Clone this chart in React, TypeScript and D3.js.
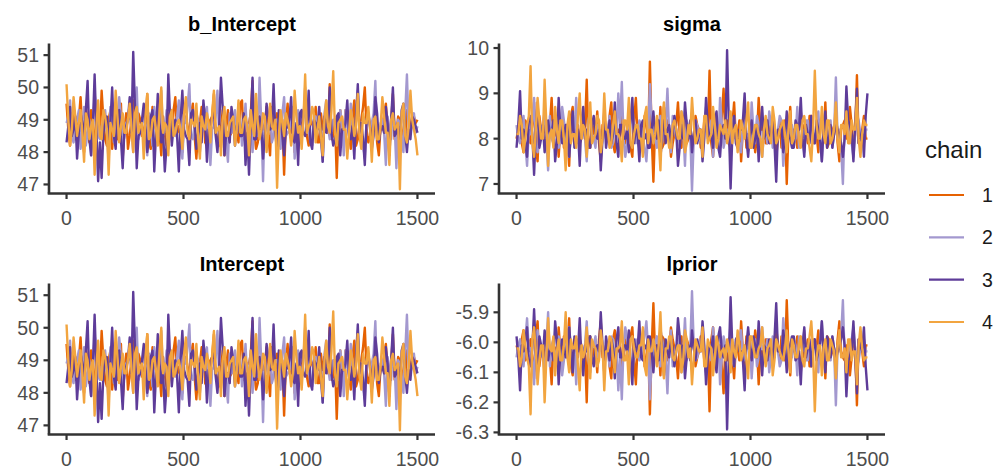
import React from "react";
import * as d3 from "d3";

// Draws at iterations 0, 15, ..., 1500 ("at") and 7.5, 22.5, ... ("mid"), interleaved
const ITER_STEP = 7.5;
const chains = ["1", "2", "3", "4"];
const chainColors = ["#e66101", "#a398cf", "#5e3c99", "#f2a540"];

const bIntercept1 = [49.5,48.2,49.1,48.6,49.7,48.0,48.9,49.3,47.9,48.7,49.9,48.4,49.0,48.1,49.5,48.8,47.8,49.2,48.5,49.6,48.3,49.0,48.7,49.8,48.1,48.9,49.4,47.9,48.6,49.2,48.4,49.7,48.8,48.0,49.1,48.5,49.5,47.8,48.9,49.3,48.2,49.0,49.8,48.4,48.7,47.9,49.3,48.6,49.1,48.3,49.6,48.5,48.9,50.2,48.1,49.0,48.7,49.4,47.9,48.8,49.2,48.4,47.3,49.5,48.6,48.0,49.1,48.8,49.7,48.2,48.9,49.4,48.3,48.7,49.0,50.1,48.5,47.2,49.3,48.6,48.9,48.1,49.6,48.4,49.0,50.0,48.3,48.8,49.2,47.9,48.7,49.5,48.2,49.8,48.6,49.0,48.4,49.3,48.7,49.1,49.0];
const bIntercept2 = [48.9,49.6,48.3,49.0,48.1,49.4,48.6,47.9,49.8,48.5,48.8,49.3,47.7,49.0,48.4,49.7,48.2,48.9,49.5,48.0,50.0,48.6,49.2,47.9,48.8,49.4,48.3,49.9,48.7,48.1,49.1,48.5,49.6,47.8,48.9,50.1,48.4,49.2,48.0,48.7,49.4,47.6,48.8,49.9,48.3,49.1,47.7,48.6,49.3,48.9,48.2,49.5,48.7,48.0,49.2,50.3,47.1,48.8,49.4,48.5,49.0,48.1,49.7,48.6,48.9,47.8,49.3,48.4,50.0,48.7,48.2,49.1,48.8,47.7,49.6,48.4,49.0,48.6,49.3,47.9,48.8,49.5,48.3,49.9,48.6,47.8,49.2,48.9,50.2,48.4,49.0,47.6,48.7,49.4,47.5,48.9,48.0,50.4,48.6,49.2,48.8];
const bIntercept3 = [48.3,49.4,48.7,47.8,49.2,48.5,50.2,47.9,50.4,47.1,47.2,49.0,48.4,50.0,48.1,49.3,47.5,48.8,49.7,51.1,47.5,48.6,49.5,48.0,49.1,47.4,49.8,48.3,47.4,50.4,48.2,49.0,47.4,49.9,48.5,47.6,49.3,48.1,48.9,49.6,47.7,48.8,49.2,48.0,50.3,47.9,48.6,49.4,48.2,49.0,48.5,47.6,47.3,50.3,48.4,49.1,47.8,49.5,48.7,50.1,48.0,49.2,47.9,48.8,49.7,48.3,47.6,49.3,48.5,49.9,48.1,48.9,49.4,47.7,48.6,50.0,48.2,49.1,47.9,48.7,49.6,48.4,47.8,50.1,48.9,47.6,49.2,48.1,49.7,48.3,48.8,49.4,47.9,50.0,48.6,48.1,49.5,48.0,48.4,49.0,48.6];
const bIntercept4 = [50.1,48.2,49.7,48.5,49.3,47.7,49.0,48.8,47.3,49.6,48.4,49.1,47.3,48.7,49.9,48.3,49.2,48.6,49.5,48.0,49.4,48.8,47.8,49.8,48.5,49.1,48.2,50.0,48.9,47.9,49.3,48.6,49.0,48.1,49.7,48.4,48.9,49.5,47.8,48.8,49.2,48.3,49.9,48.7,47.9,49.4,48.5,49.0,48.2,49.6,48.6,49.1,47.9,48.8,49.8,48.4,49.2,48.0,49.5,48.7,46.9,49.3,48.5,49.0,48.2,49.9,48.6,48.1,50.4,48.8,49.4,48.3,49.1,47.9,49.6,48.6,50.5,48.2,49.0,48.7,47.8,49.3,48.5,49.8,48.1,48.9,49.4,47.7,49.1,48.4,49.7,48.6,47.6,49.2,48.8,46.85,49.5,48.3,49.9,48.7,47.9];

const bInterceptMid1 = [48.7,49.2,48.4,49.0,48.6,49.4,48.3,48.9,49.1,48.5,49.0,48.2,49.3,48.8,48.4,49.5,48.7,48.1,49.0,48.6,49.2,48.5,48.9,48.3,49.4,48.7,48.6,49.1,48.2,48.9,49.3,48.6,48.4,49.0,48.8,49.2,48.5,48.7,49.4,48.3,48.9,49.1,48.6,48.2,49.3,48.8,48.5,49.0,48.7,49.5,48.4,48.9,49.2,48.6,48.3,49.1,48.8,48.5,49.4,48.7,48.2,49.0,48.9,48.6,49.3,48.4,48.8,49.1,48.5,49.0,48.7,48.3,49.2,48.9,48.6,48.4,49.0,48.8,48.5,49.3,48.6,49.1,48.2,48.9,49.4,48.7,48.5,49.0,48.3,48.8,49.2,48.6,48.9,48.4,49.1,48.7,48.5,49.2,48.8,48.9];
const bInterceptMid2 = [49.1,48.5,48.8,49.3,48.6,48.2,49.0,48.7,49.2,48.4,48.9,48.6,49.4,48.3,48.8,49.1,48.5,49.0,48.7,49.3,48.4,48.9,48.6,49.2,48.2,48.8,49.0,48.5,49.3,48.7,48.6,49.1,48.3,48.9,49.4,48.5,48.8,49.0,48.6,49.2,48.4,48.7,49.1,48.5,48.9,48.3,49.2,48.8,48.6,49.0,48.7,48.4,49.3,48.8,48.5,48.9,49.1,48.6,48.3,49.0,48.8,49.2,48.5,48.7,49.4,48.4,48.9,49.0,48.6,48.3,49.1,48.7,48.5,49.2,48.8,48.6,49.0,48.4,48.9,49.3,48.5,48.8,49.1,48.6,48.3,49.0,48.7,49.2,48.5,48.9,48.6,49.1,48.4,48.8,49.0,48.5,49.2,48.7,48.9,48.6];
const bInterceptMid3 = [48.8,48.5,49.1,48.6,48.9,49.3,48.4,48.8,48.7,48.3,48.6,49.1,48.9,48.5,49.2,48.4,48.7,49.0,48.6,49.4,48.5,49.0,48.8,48.4,49.3,48.6,48.9,48.7,48.2,49.1,48.8,48.5,49.0,48.7,48.4,49.2,48.9,48.6,48.3,49.0,48.7,49.1,48.5,48.8,49.4,48.6,48.3,49.0,48.8,48.5,49.2,48.6,48.9,48.4,49.0,48.7,48.5,49.1,48.8,48.6,49.3,48.5,48.7,49.0,48.4,48.9,49.2,48.6,48.8,48.3,49.0,48.7,48.5,49.1,48.9,48.6,48.4,49.2,48.7,48.9,48.5,48.8,49.1,48.6,48.4,49.0,48.8,48.5,49.2,48.7,48.6,48.9,49.0,48.5,48.8,49.3,48.6,48.7,49.1,48.8];
const bInterceptMid4 = [49.0,48.7,49.1,48.9,48.6,49.2,48.4,49.0,48.8,48.5,49.3,48.7,48.9,48.5,49.1,48.8,48.6,49.0,48.7,49.2,48.6,48.9,49.1,48.4,49.0,48.7,49.3,48.6,48.8,49.1,48.5,48.9,48.7,49.2,48.6,49.0,48.8,48.4,49.1,48.7,48.9,49.2,48.6,48.8,49.0,48.5,48.9,49.1,48.7,48.6,49.0,48.8,49.3,48.5,48.9,48.7,49.1,48.6,48.8,49.0,48.5,48.9,49.2,48.7,48.6,49.1,48.8,49.0,48.6,48.9,49.2,48.7,48.5,49.0,48.8,49.3,48.6,48.9,49.1,48.7,48.6,49.0,48.8,48.5,49.2,48.9,48.7,49.0,48.4,48.8,49.1,48.6,49.0,48.7,48.9,49.2,48.5,48.8,49.0,48.4];

const sigma1 = [8.0,8.6,7.7,8.3,7.9,8.8,7.5,8.2,8.4,7.8,8.9,8.1,7.6,8.5,8.0,7.4,8.7,8.2,7.9,8.4,9.3,7.8,8.1,8.6,7.5,8.3,8.0,8.8,7.7,8.2,8.5,7.9,8.4,7.6,8.9,8.1,7.8,8.3,9.7,7.05,8.2,8.7,7.9,8.4,7.6,8.1,8.8,7.8,8.3,8.0,7.7,8.5,8.2,7.9,8.6,9.5,7.6,8.3,8.0,9.1,8.4,7.8,8.8,8.1,7.5,8.6,8.0,8.3,7.7,8.9,8.2,7.9,8.5,8.0,7.6,8.4,8.1,7.0,8.7,8.2,7.8,8.6,8.3,7.9,8.5,8.0,7.7,8.4,8.8,7.9,8.2,8.6,7.5,8.3,8.0,8.7,7.8,9.4,8.1,8.5,8.0];
const sigma2 = [8.3,7.9,8.5,7.4,8.1,8.9,7.7,8.2,8.6,7.3,8.0,8.4,7.8,8.7,8.1,7.6,8.3,8.9,7.9,8.2,7.5,8.6,8.0,8.3,7.7,8.5,8.1,7.8,8.4,9.0,9.25,7.6,8.2,8.7,7.9,8.4,8.0,7.5,9.2,8.1,7.8,8.5,8.2,9.1,7.7,8.3,8.0,8.6,7.4,8.2,6.85,8.4,8.1,7.9,8.7,8.0,7.6,8.3,8.9,7.8,8.2,7.5,8.5,8.0,7.7,8.4,8.1,8.8,7.9,8.3,7.6,8.2,8.6,7.8,8.0,8.5,7.4,8.3,8.1,7.9,8.7,8.0,7.7,8.4,8.2,7.9,8.6,7.5,8.3,8.1,7.8,9.35,8.2,7.0,8.4,8.0,7.6,8.5,8.1,7.9,8.2];
const sigma3 = [7.8,9.05,8.2,7.6,8.5,7.2,8.8,8.0,7.7,8.4,8.1,7.5,8.9,7.9,8.3,7.6,8.6,8.0,7.4,8.7,8.2,7.8,8.5,8.0,7.3,8.6,8.1,7.9,8.8,7.6,8.3,8.0,7.7,8.9,8.2,7.5,8.4,8.1,7.8,8.6,8.0,7.6,8.7,8.2,7.9,8.5,7.4,8.3,8.8,8.0,7.7,8.4,8.1,7.5,8.9,8.0,7.8,8.6,7.6,8.3,9.95,6.9,8.5,7.8,8.2,9.0,7.6,8.4,8.0,7.5,8.7,8.1,7.9,8.4,7.05,8.2,7.7,8.6,8.0,7.8,8.3,8.9,7.6,8.1,8.5,7.9,8.2,7.5,8.6,8.0,7.8,8.4,8.1,7.6,9.15,8.3,7.5,9.1,8.0,7.6,9.0];
const sigma4 = [8.1,8.5,7.7,8.3,9.6,7.6,8.9,8.0,9.3,7.4,8.2,8.7,7.9,8.4,7.3,8.6,8.1,7.8,9.0,8.3,7.6,8.8,8.0,8.5,7.7,9.0,8.2,7.9,8.6,8.1,7.5,8.4,8.9,7.8,8.3,8.0,7.6,8.7,8.2,7.9,8.5,7.3,8.8,8.1,7.8,8.4,8.0,8.6,7.7,8.3,8.9,7.9,8.2,7.6,8.5,8.0,8.7,7.8,8.3,8.1,7.9,8.6,8.2,7.7,8.4,8.0,8.8,7.8,8.3,8.1,7.6,8.5,8.0,8.7,7.9,8.2,8.4,7.7,8.6,8.0,8.3,7.8,8.5,8.1,7.5,9.5,8.0,8.7,7.9,8.4,8.0,8.8,7.7,8.3,8.6,7.9,8.2,8.9,7.6,8.4,8.3];

const sigmaMid1 = [8.2,7.9,8.4,8.0,8.3,7.8,8.5,8.1,7.9,8.3,8.0,8.4,8.2,7.8,8.1,8.5,7.9,8.3,8.0,8.2,7.8,8.4,8.1,7.9,8.3,8.0,8.5,7.9,8.2,8.0,8.3,8.1,7.8,8.4,8.0,8.2,8.5,7.9,8.1,8.3,8.0,7.8,8.4,8.2,7.9,8.3,8.1,8.5,7.9,8.2,8.0,8.3,7.8,8.4,8.1,7.9,8.2,8.0,8.5,8.1,7.9,8.3,8.0,8.4,8.2,7.8,8.1,8.3,8.0,8.2,8.4,7.9,8.1,8.3,8.0,7.8,8.4,8.2,7.9,8.1,8.3,8.0,8.2,8.5,7.9,8.1,8.4,8.0,7.8,8.3,8.1,7.9,8.2,8.4,8.0,8.3,8.1,7.9,8.2,8.0];
const sigmaMid2 = [8.0,8.3,7.9,8.2,8.4,7.8,8.1,8.3,8.0,8.5,7.9,8.2,8.0,8.4,7.8,8.3,8.1,7.9,8.2,8.0,8.4,8.1,7.8,8.3,8.0,8.2,8.5,7.9,8.1,8.3,8.0,7.9,8.4,8.2,8.0,8.3,7.8,8.1,8.4,8.0,8.2,7.9,8.3,8.1,8.5,8.0,7.8,8.2,8.4,8.1,8.0,8.3,7.9,8.2,8.0,8.4,8.1,7.8,8.3,8.0,8.2,8.4,8.0,7.9,8.3,8.1,7.8,8.2,8.5,8.0,8.1,7.9,8.3,8.0,8.2,8.4,7.9,8.1,8.3,8.0,7.8,8.2,8.4,8.0,8.1,8.3,7.9,8.2,8.0,8.4,8.1,8.0,7.8,8.3,8.2,7.9,8.1,8.4,8.0,8.2];
const sigmaMid3 = [8.3,8.0,7.9,8.4,8.1,8.2,7.8,8.3,8.0,8.1,8.4,7.9,8.2,8.0,8.3,8.1,7.8,8.2,8.4,8.0,7.9,8.3,8.1,8.2,8.0,7.8,8.4,8.1,7.9,8.3,8.0,8.2,8.4,7.9,8.1,8.3,8.0,7.8,8.2,8.1,8.4,8.0,7.9,8.3,8.1,8.2,7.8,8.0,8.3,8.4,8.1,7.9,8.2,8.0,8.3,8.1,8.4,7.8,8.2,8.0,8.3,8.1,7.9,8.2,8.4,8.0,8.1,7.8,8.3,8.2,8.0,8.4,8.1,7.9,8.2,8.3,8.0,8.1,7.8,8.4,8.2,8.0,8.3,7.9,8.1,8.4,8.0,8.2,7.8,8.3,8.1,8.2,7.9,8.0,8.4,8.1,8.3,7.9,8.2,8.5];
const sigmaMid4 = [8.1,8.3,8.0,8.5,7.9,8.2,8.4,8.0,8.3,8.1,7.8,8.2,8.4,8.0,8.3,7.9,8.1,8.5,8.0,8.2,8.3,7.9,8.1,8.4,8.0,8.2,7.8,8.3,8.1,8.0,8.4,8.2,7.9,8.1,8.3,8.0,8.5,7.9,8.2,8.1,8.0,8.4,8.1,7.8,8.3,8.2,8.0,8.4,7.9,8.1,8.3,8.0,8.2,8.5,7.9,8.1,8.3,8.0,8.2,8.4,8.1,7.9,8.3,8.0,8.2,8.4,7.8,8.1,8.3,8.0,8.2,8.1,7.9,8.4,8.0,8.3,8.1,8.2,7.9,8.3,8.0,8.4,8.1,7.8,8.2,8.3,8.0,8.1,8.4,7.9,8.2,8.0,8.3,8.1,7.9,8.4,8.2,8.0,8.1,8.3];

const lprior1 = [-6.01,-6.10,-5.96,-6.05,-5.99,-6.12,-5.93,-6.03,-6.06,-5.98,-6.14,-6.02,-5.95,-6.08,-6.01,-5.92,-6.11,-6.03,-5.99,-6.06,-6.20,-5.98,-6.02,-6.10,-5.93,-6.05,-6.01,-6.12,-5.96,-6.03,-6.08,-5.99,-6.06,-5.95,-6.14,-6.02,-5.98,-6.05,-6.24,-5.87,-6.03,-6.11,-5.99,-6.06,-5.95,-6.02,-6.12,-5.98,-6.05,-6.01,-5.96,-6.08,-6.03,-5.99,-6.10,-6.23,-5.95,-6.05,-6.01,-6.17,-6.06,-5.98,-6.12,-6.02,-5.93,-6.10,-6.01,-6.05,-5.96,-6.14,-6.03,-5.99,-6.08,-6.01,-5.95,-6.06,-6.02,-5.86,-6.11,-6.03,-5.98,-6.10,-6.05,-5.99,-6.08,-6.01,-5.96,-6.06,-6.12,-5.99,-6.03,-6.10,-5.93,-6.05,-6.01,-6.11,-5.98,-6.21,-6.02,-6.08,-6.01];
const lprior2 = [-6.05,-5.99,-6.08,-5.92,-6.02,-6.14,-5.96,-6.03,-6.10,-5.90,-6.01,-6.06,-5.98,-6.11,-6.02,-5.95,-6.05,-6.14,-5.99,-6.03,-5.93,-6.10,-6.01,-6.05,-5.96,-6.08,-6.02,-5.98,-6.06,-6.16,-6.19,-5.95,-6.03,-6.11,-5.99,-6.06,-6.01,-5.93,-6.19,-6.02,-5.98,-6.08,-6.03,-6.17,-5.96,-6.05,-6.01,-6.10,-5.92,-6.03,-5.83,-6.06,-6.02,-5.99,-6.11,-6.01,-5.95,-6.05,-6.14,-5.98,-6.03,-5.93,-6.08,-6.01,-5.96,-6.06,-6.02,-6.12,-5.99,-6.05,-5.95,-6.03,-6.10,-5.98,-6.01,-6.08,-5.92,-6.05,-6.02,-5.99,-6.11,-6.01,-5.96,-6.06,-6.03,-5.99,-6.10,-5.93,-6.05,-6.02,-5.98,-6.21,-6.03,-5.86,-6.06,-6.01,-5.95,-6.08,-6.02,-5.99,-6.03];
const lprior3 = [-5.98,-6.16,-6.03,-5.95,-6.08,-5.89,-6.12,-6.01,-5.96,-6.06,-6.02,-5.93,-6.14,-5.99,-6.05,-5.95,-6.10,-6.01,-5.92,-6.11,-6.03,-5.98,-6.08,-6.01,-5.90,-6.10,-6.02,-5.99,-6.12,-5.95,-6.05,-6.01,-5.96,-6.14,-6.03,-5.93,-6.06,-6.02,-5.98,-6.10,-6.01,-5.95,-6.11,-6.03,-5.99,-6.08,-5.92,-6.05,-6.12,-6.01,-5.96,-6.06,-6.02,-5.93,-6.14,-6.01,-5.98,-6.10,-5.95,-6.05,-6.29,-5.85,-6.08,-5.98,-6.03,-6.16,-5.95,-6.06,-6.01,-5.93,-6.11,-6.02,-5.99,-6.06,-5.87,-6.03,-5.96,-6.10,-6.01,-5.98,-6.05,-6.14,-5.95,-6.02,-6.08,-5.99,-6.03,-5.93,-6.10,-6.01,-5.98,-6.06,-6.02,-5.95,-6.18,-6.05,-5.93,-6.17,-6.01,-5.95,-6.16];
const lprior4 = [-6.02,-6.08,-5.96,-6.05,-6.24,-5.95,-6.14,-6.01,-6.20,-5.92,-6.03,-6.11,-5.99,-6.06,-5.90,-6.10,-6.02,-5.98,-6.16,-6.05,-5.95,-6.12,-6.01,-6.08,-5.96,-6.16,-6.03,-5.99,-6.10,-6.02,-5.93,-6.06,-6.14,-5.98,-6.05,-6.01,-5.95,-6.11,-6.03,-5.99,-6.08,-5.90,-6.12,-6.02,-5.98,-6.06,-6.01,-6.10,-5.96,-6.05,-6.14,-5.99,-6.03,-5.95,-6.08,-6.01,-6.11,-5.98,-6.05,-6.02,-5.99,-6.10,-6.03,-5.96,-6.06,-6.01,-6.12,-5.98,-6.05,-6.02,-5.95,-6.08,-6.01,-6.11,-5.99,-6.03,-6.06,-5.96,-6.10,-6.01,-6.05,-5.98,-6.08,-6.02,-5.93,-6.23,-6.01,-6.11,-5.99,-6.06,-6.01,-6.12,-5.96,-6.05,-6.10,-5.99,-6.03,-6.14,-5.95,-6.06,-6.05];

const lpriorMid1 = [-6.03,-5.99,-6.06,-6.01,-6.05,-5.98,-6.08,-6.02,-5.99,-6.05,-6.01,-6.06,-6.03,-5.98,-6.02,-6.08,-5.99,-6.05,-6.01,-6.03,-5.98,-6.06,-6.02,-5.99,-6.05,-6.01,-6.08,-5.99,-6.03,-6.01,-6.05,-6.02,-5.98,-6.06,-6.01,-6.03,-6.08,-5.99,-6.02,-6.05,-6.01,-5.98,-6.06,-6.03,-5.99,-6.05,-6.02,-6.08,-5.99,-6.03,-6.01,-6.05,-5.98,-6.06,-6.02,-5.99,-6.03,-6.01,-6.08,-6.02,-5.99,-6.05,-6.01,-6.06,-6.03,-5.98,-6.02,-6.05,-6.01,-6.03,-6.06,-5.99,-6.02,-6.05,-6.01,-5.98,-6.06,-6.03,-5.99,-6.02,-6.05,-6.01,-6.03,-6.08,-5.99,-6.02,-6.06,-6.01,-5.98,-6.05,-6.02,-5.99,-6.03,-6.06,-6.01,-6.05,-6.02,-5.99,-6.03,-6.01];
const lpriorMid2 = [-6.01,-6.05,-5.99,-6.03,-6.06,-5.98,-6.02,-6.05,-6.01,-6.08,-5.99,-6.03,-6.01,-6.06,-5.98,-6.05,-6.02,-5.99,-6.03,-6.01,-6.06,-6.02,-5.98,-6.05,-6.01,-6.03,-6.08,-5.99,-6.02,-6.05,-6.01,-5.99,-6.06,-6.03,-6.01,-6.05,-5.98,-6.02,-6.06,-6.01,-6.03,-5.99,-6.05,-6.02,-6.08,-6.01,-5.98,-6.03,-6.06,-6.02,-6.01,-6.05,-5.99,-6.03,-6.01,-6.06,-6.02,-5.98,-6.05,-6.01,-6.03,-6.06,-6.01,-5.99,-6.05,-6.02,-5.98,-6.03,-6.08,-6.01,-6.02,-5.99,-6.05,-6.01,-6.03,-6.06,-5.99,-6.02,-6.05,-6.01,-5.98,-6.03,-6.06,-6.01,-6.02,-6.05,-5.99,-6.03,-6.01,-6.06,-6.02,-6.01,-5.98,-6.05,-6.03,-5.99,-6.02,-6.06,-6.01,-6.03];
const lpriorMid3 = [-6.05,-6.01,-5.99,-6.06,-6.02,-6.03,-5.98,-6.05,-6.01,-6.02,-6.06,-5.99,-6.03,-6.01,-6.05,-6.02,-5.98,-6.03,-6.06,-6.01,-5.99,-6.05,-6.02,-6.03,-6.01,-5.98,-6.06,-6.02,-5.99,-6.05,-6.01,-6.03,-6.06,-5.99,-6.02,-6.05,-6.01,-5.98,-6.03,-6.02,-6.06,-6.01,-5.99,-6.05,-6.02,-6.03,-5.98,-6.01,-6.05,-6.06,-6.02,-5.99,-6.03,-6.01,-6.05,-6.02,-6.06,-5.98,-6.03,-6.01,-6.05,-6.02,-5.99,-6.03,-6.06,-6.01,-6.02,-5.98,-6.05,-6.03,-6.01,-6.06,-6.02,-5.99,-6.03,-6.05,-6.01,-6.02,-5.98,-6.06,-6.03,-6.01,-6.05,-5.99,-6.02,-6.06,-6.01,-6.03,-5.98,-6.05,-6.02,-6.03,-5.99,-6.01,-6.06,-6.02,-6.05,-5.99,-6.03,-6.08];
const lpriorMid4 = [-6.02,-6.05,-6.01,-6.08,-5.99,-6.03,-6.06,-6.01,-6.05,-6.02,-5.98,-6.03,-6.06,-6.01,-6.05,-5.99,-6.02,-6.08,-6.01,-6.03,-6.05,-5.99,-6.02,-6.06,-6.01,-6.03,-5.98,-6.05,-6.02,-6.01,-6.06,-6.03,-5.99,-6.02,-6.05,-6.01,-6.08,-5.99,-6.03,-6.02,-6.01,-6.06,-6.02,-5.98,-6.05,-6.03,-6.01,-6.06,-5.99,-6.02,-6.05,-6.01,-6.03,-6.08,-5.99,-6.02,-6.05,-6.01,-6.03,-6.06,-6.02,-5.99,-6.05,-6.01,-6.03,-6.06,-5.98,-6.02,-6.05,-6.01,-6.03,-6.02,-5.99,-6.06,-6.01,-6.05,-6.02,-6.03,-5.99,-6.05,-6.01,-6.06,-6.02,-5.98,-6.03,-6.05,-6.01,-6.02,-6.06,-5.99,-6.03,-6.01,-6.05,-6.02,-5.99,-6.06,-6.03,-6.01,-6.02,-6.05];

const xTicks = [0, 500, 1000, 1500];
const bInterceptTicks = [47, 48, 49, 50, 51];
const sigmaTicks = [7, 8, 9, 10];
const lpriorTicks = [-6.3, -6.2, -6.1, -6.0, -5.9];

// interleave draws at whole steps with the draws between them
function interleave(at: number[], mid: number[]): number[] {
  const out: number[] = [];
  at.forEach((v, i) => {
    out.push(v);
    if (i < mid.length) out.push(mid[i]);
  });
  return out;
}

const FONT = "'Liberation Sans', Arial, Helvetica, sans-serif";

type Panel = {
  title: string;
  series: number[][];
  x0: number; x1: number; yTop: number; yBot: number;
  domain: [number, number];
  ticks: number[];
  fmt: (v: number) => string;
};

const bSeries = [
  interleave(bIntercept1, bInterceptMid1),
  interleave(bIntercept2, bInterceptMid2),
  interleave(bIntercept3, bInterceptMid3),
  interleave(bIntercept4, bInterceptMid4),
];

const panels: Panel[] = [
  { title: "b_Intercept", series: bSeries, x0: 49, x1: 435, yTop: 43.5, yBot: 193.5, domain: [46.72, 51.36], ticks: bInterceptTicks, fmt: (v) => String(v) },
  { title: "sigma", series: [interleave(sigma1, sigmaMid1), interleave(sigma2, sigmaMid2), interleave(sigma3, sigmaMid3), interleave(sigma4, sigmaMid4)], x0: 499, x1: 885, yTop: 43.5, yBot: 193.5, domain: [6.79, 10.1], ticks: sigmaTicks, fmt: (v) => String(v) },
  { title: "Intercept", series: bSeries, x0: 49, x1: 435, yTop: 283.5, yBot: 434.5, domain: [46.72, 51.36], ticks: bInterceptTicks, fmt: (v) => String(v) },
  { title: "lprior", series: [interleave(lprior1, lpriorMid1), interleave(lprior2, lpriorMid2), interleave(lprior3, lpriorMid3), interleave(lprior4, lpriorMid4)], x0: 499, x1: 885, yTop: 283.5, yBot: 434.5, domain: [-6.307, -5.804], ticks: lpriorTicks, fmt: (v) => v.toFixed(1) },
];

const AXIS = "#333333";
const TICKTXT = "#4d4d4d";

function PanelView({ p }: { p: Panel }) {
  const x = d3.scaleLinear().domain([-75, 1575]).range([p.x0, p.x1]);
  const y = d3.scaleLinear().domain(p.domain).range([p.yBot, p.yTop]);
  const line = d3
    .line<number>()
    .x((_, i) => x(i * ITER_STEP))
    .y((d) => y(d));
  return (
    <g>
      <text x={(p.x0 + p.x1) / 2} y={p.yTop - 13} textAnchor="middle" fontFamily={FONT} fontWeight="bold" fontSize={20} fill="#000">
        {p.title}
      </text>
      {p.series.map((s, ci) => (
        <path key={ci} d={line(s) || ""} fill="none" stroke={chainColors[ci]} strokeWidth={2.4} strokeLinejoin="round" />
      ))}
      <line x1={p.x0} x2={p.x0} y1={p.yTop} y2={p.yBot} stroke={AXIS} strokeWidth={2.6} />
      <line x1={p.x0 - 1.3} x2={p.x1} y1={p.yBot} y2={p.yBot} stroke={AXIS} strokeWidth={2.6} />
      {p.ticks.map((t) => (
        <g key={t}>
          <line x1={p.x0 - 5.5} x2={p.x0} y1={y(t)} y2={y(t)} stroke={AXIS} strokeWidth={2.2} />
          <text x={p.x0 - 10} y={y(t)} dy="0.36em" textAnchor="end" fontFamily={FONT} fontSize={19.5} fill={TICKTXT}>
            {p.fmt(t)}
          </text>
        </g>
      ))}
      {xTicks.map((t) => (
        <g key={t}>
          <line x1={x(t)} x2={x(t)} y1={p.yBot} y2={p.yBot + 5.5} stroke={AXIS} strokeWidth={2.2} />
          <text x={x(t)} y={p.yBot + 31} textAnchor="middle" fontFamily={FONT} fontSize={19.5} fill={TICKTXT}>
            {t}
          </text>
        </g>
      ))}
    </g>
  );
}

export default function App() {
  const legendY = d3.scaleLinear().domain([0, 3]).range([195, 322]);
  return (
    <div style={{ position: "fixed", left: 0, top: 0 }}>
      <svg width={997} height={468} style={{ display: "block", background: "#fff" }}>
        <rect width={997} height={468} fill="#fff" />
        {panels.map((p) => (
          <PanelView key={p.title} p={p} />
        ))}
        <text x={925} y={158} fontFamily={FONT} fontSize={24} fill="#1a1a1a">chain</text>
        {chains.map((c, i) => (
          <g key={c}>
            <line x1={929} x2={964} y1={legendY(i)} y2={legendY(i)} stroke={chainColors[i]} strokeWidth={2.2} />
            <text x={982} y={legendY(i)} dy="0.36em" fontFamily={FONT} fontSize={19.5} fill="#1a1a1a">{c}</text>
          </g>
        ))}
      </svg>
    </div>
  );
}
